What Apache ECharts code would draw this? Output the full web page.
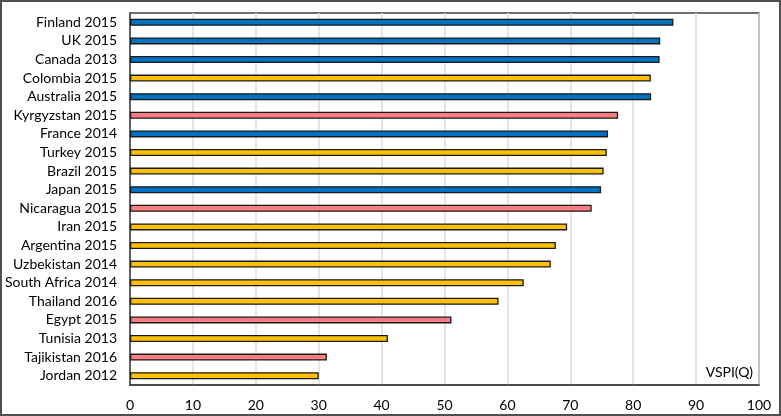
<!DOCTYPE html>
<html><head><meta charset="utf-8">
<script src="https://cdn.jsdelivr.net/npm/echarts@6/dist/echarts.min.js"></script>
<style>html,body{margin:0;padding:0;background:#fff}#c{width:781px;height:416px;box-sizing:border-box;border:2px solid #505050}</style>
</head><body><div id="c"></div>
<script>
const categories = ["Finland 2015","UK 2015","Canada 2013","Colombia 2015","Australia 2015","Kyrgyzstan 2015","France 2014","Turkey 2015","Brazil 2015","Japan 2015","Nicaragua 2015","Iran 2015","Argentina 2015","Uzbekistan 2014","South Africa 2014","Thailand 2016","Egypt 2015","Tunisia 2013","Tajikistan 2016","Jordan 2012"];
const values = [86.4,84.3,84.2,82.8,82.85,77.6,76.0,75.8,75.3,74.9,73.4,69.5,67.7,66.9,62.6,58.6,51.1,41.0,31.3,30.0];
const groups = ["high","high","high","mid","high","low","high","mid","mid","high","low","mid","mid","mid","mid","mid","low","mid","low","mid"];
const groupColors = {high:"#0070C0", mid:"#FFC000", low:"#FF7C80"};
const xTicks = {min:0,max:100,interval:10};
const axisName = "VSPI(Q)";

const chart = echarts.init(document.getElementById('c'), null, {renderer:'canvas'});
const font = "Lato, 'Open Sans', sans-serif";
chart.setOption({
  animation:false,
  grid:{left:128,right:20,top:11,bottom:29,containLabel:false,show:true,borderColor:'#404040',borderWidth:1.5,backgroundColor:'transparent'},
  xAxis:{type:'value',min:xTicks.min,max:xTicks.max,interval:xTicks.interval,
    axisLine:{show:true,lineStyle:{color:'#404040',width:1.5}},axisTick:{show:false},
    axisLabel:{color:'#000',fontSize:14,fontFamily:font,margin:13},
    splitLine:{lineStyle:{color:'#dcdcdc',width:1.5}}},
  yAxis:{type:'category',data:categories,inverse:true,
    axisLine:{show:true,lineStyle:{color:'#404040',width:1.5}},axisTick:{show:false},
    axisLabel:{color:'#000',fontSize:14,fontFamily:font,margin:13}},
  series:[{type:'bar',barWidth:7,
    data:values.map((v,i)=>({value:v,itemStyle:{color:groupColors[groups[i]]}})),
    itemStyle:{borderColor:'#1a1a1a',borderWidth:1.3}}],
  graphic:[{type:'text',right:26,bottom:35,style:{text:axisName,fontSize:14,fontFamily:font,fill:'#000'}}]
});
</script></body></html>
